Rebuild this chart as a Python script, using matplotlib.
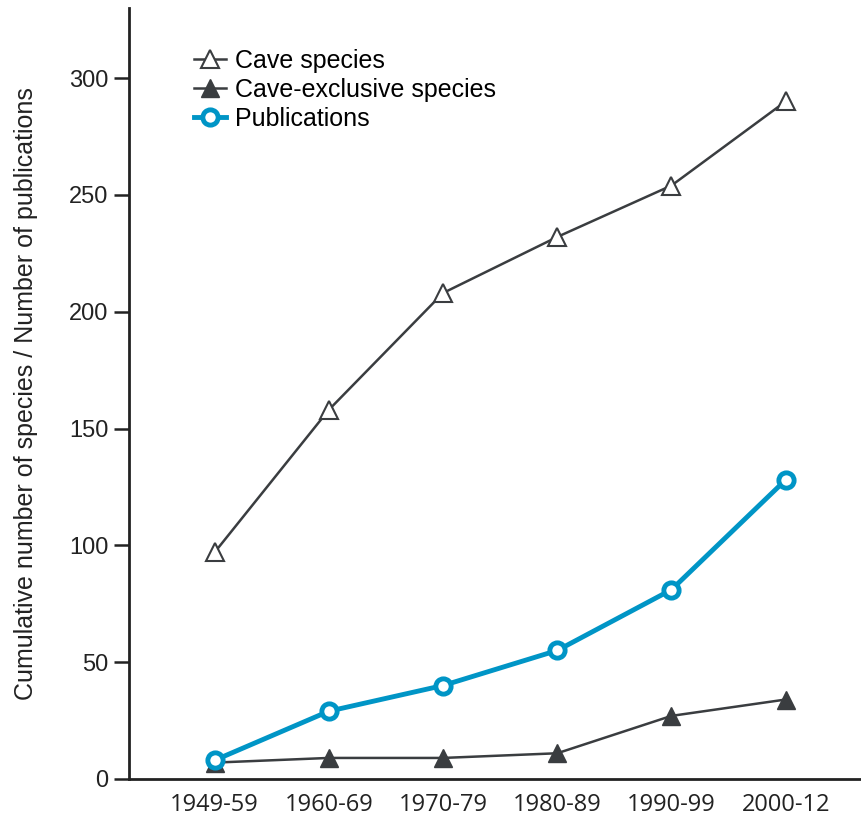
import matplotlib
matplotlib.use('Agg')
import matplotlib.pyplot as plt

periods = ['1949-59', '1960-69', '1970-79', '1980-89', '1990-99', '2000-12']
cave_species = [97, 158, 208, 232, 254, 290]
cave_exclusive = [7, 9, 9, 11, 27, 34]
publications = [8, 29, 40, 55, 81, 128]

plt.rcParams['font.family'] = ['Liberation Sans', 'DejaVu Sans']
dark = '#3a3d40'
blue = '#0095c6'

fig = plt.figure(figsize=(8.61, 8.25), dpi=100)
ax = fig.add_axes([0.1498, 0.0558, 0.8502, 0.9345])

x = range(len(periods))
ax.plot(x, cave_species, color=dark, lw=1.8, marker='^', ms=13,
        mfc='white', mec=dark, mew=1.5, label='Cave species', zorder=3)
ax.plot(x, cave_exclusive, color=dark, lw=1.8, marker='^', ms=13,
        mfc=dark, mec=dark, label='Cave-exclusive species', zorder=3)
ax.plot(x, publications, color=blue, lw=3.5, marker='o', ms=11,
        mfc='white', mec=blue, mew=3.5, label='Publications', zorder=4)

ax.set_xlim(-0.75, 5.66)
ax.set_ylim(0, 330)
ax.set_yticks(range(0, 301, 50))
ax.set_xticks(list(x))
ax.set_xticklabels(periods, fontfamily='Open Sans', fontsize=17, color='#222222')
ax.tick_params(axis='x', length=0, pad=10)
ax.tick_params(axis='y', length=11, width=1.8, labelsize=17, color='#222222',
               labelcolor='#222222', pad=4)
for s in ['top', 'right']:
    ax.spines[s].set_visible(False)
for s in ['left', 'bottom']:
    ax.spines[s].set_linewidth(2)
    ax.spines[s].set_color('#222222')
ax.set_ylabel('Cumulative number of species / Number of publications',
              fontsize=18, color='#222222', labelpad=22)

ax.legend(loc='upper left', bbox_to_anchor=(0.075, 0.96), frameon=False,
          fontsize=18, handlelength=1.3, handletextpad=0.35, labelspacing=0.2,
          borderaxespad=0)

fig.savefig('out.png', dpi=100)
